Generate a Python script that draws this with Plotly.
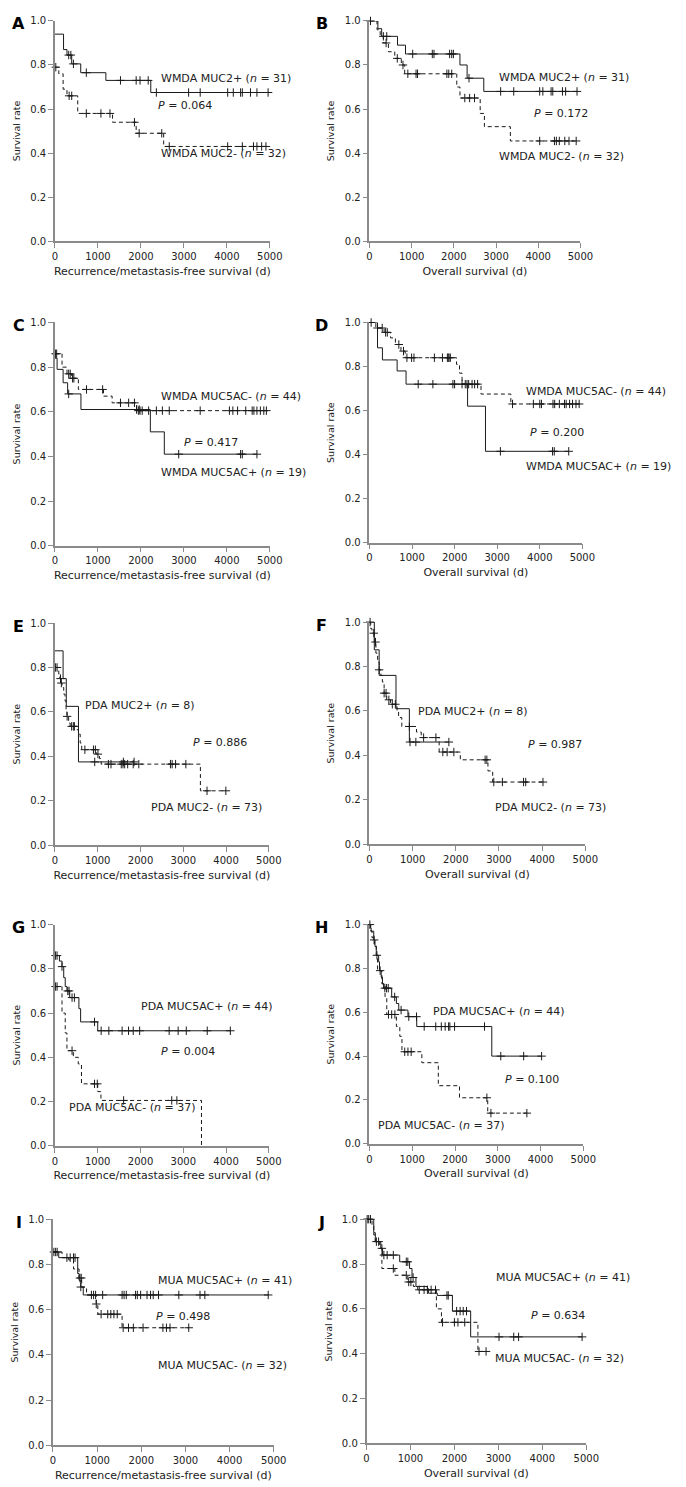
import numpy as np
import plotly.graph_objects as go

# ---------------- data (time in days, survival rate) ----------------
# Panel A  (WMDA, MUC2, recurrence/metastasis-free survival)
A_pos_t = [0, 200, 280, 390, 600, 1185, 2230]
A_pos_s = [0.94, 0.87, 0.845, 0.805, 0.765, 0.73, 0.675]
A_pos_c = [320, 370, 430, 730, 1525, 1890, 1980, 2170, 2360, 3110, 3380, 4020, 4150, 4320, 4360, 4550, 4700, 4960]
A_neg_t = [0, 90, 190, 280, 530, 1340, 1890, 2530]
A_neg_s = [0.79, 0.76, 0.69, 0.66, 0.58, 0.54, 0.49, 0.43]
A_neg_c = [20, 330, 390, 730, 1070, 1280, 1850, 1960, 2485, 2660, 4020, 4360, 4620, 4700, 4810, 4910]

# Panel B  (WMDA, MUC2, overall survival)
B_pos_t = [0, 200, 290, 665, 855, 2145, 2315, 2710]
B_pos_s = [1.0, 0.965, 0.93, 0.89, 0.85, 0.80, 0.74, 0.68]
B_pos_c = [25, 330, 410, 1025, 1490, 1530, 1900, 1950, 1990, 2360, 3110, 3420, 4035, 4110, 4305, 4345, 4575, 4650, 4920]
B_neg_t = [0, 180, 255, 330, 450, 600, 755, 835, 2070, 2145, 2625, 2725, 3340]
B_neg_s = [1.0, 0.96, 0.93, 0.90, 0.86, 0.83, 0.80, 0.76, 0.70, 0.65, 0.58, 0.52, 0.455]
B_neg_c = [395, 660, 795, 910, 1105, 1140, 1835, 1880, 1950, 2260, 2375, 2490, 4035, 4385, 4430, 4500, 4630, 4730, 4900]

# Panel C  (WMDA, MUC5AC, recurrence/metastasis-free survival)
C_pos_t = [0, 50, 190, 295, 605, 2220, 2545]
C_pos_s = [0.84, 0.79, 0.73, 0.68, 0.61, 0.51, 0.41]
C_pos_c = [320, 1900, 1960, 2880, 4320, 4360, 4700]
C_neg_t = [0, 165, 280, 390, 545, 1130, 1330, 1900]
C_neg_s = [0.86, 0.80, 0.77, 0.75, 0.70, 0.67, 0.64, 0.605]
C_neg_c = [15, 40, 320, 355, 410, 440, 735, 1110, 1525, 1715, 1850, 1940, 1980, 2030, 2180, 2360, 2500, 2660,
           3380, 4060, 4140, 4250, 4440, 4590, 4630, 4700, 4780, 4860, 4920]

# Panel D  (WMDA, MUC5AC, overall survival)
D_pos_t = [0, 190, 305, 650, 860, 2305, 2725]
D_pos_s = [1.0, 0.885, 0.83, 0.78, 0.72, 0.62, 0.415]
D_pos_c = [1145, 1490, 1960, 2000, 2175, 3075, 4300, 4340, 4680]
D_neg_t = [0, 150, 345, 495, 610, 740, 840, 2045, 2115, 2175, 2620, 3320]
D_neg_s = [1.0, 0.975, 0.955, 0.93, 0.90, 0.87, 0.84, 0.81, 0.77, 0.72, 0.675, 0.63]
D_neg_c = [40, 190, 300, 380, 420, 690, 800, 880, 990, 1045, 1525, 1715, 1830, 1850, 1870, 1900, 2250, 2290,
           2330, 2410, 2470, 2540, 3360, 3850, 4000, 4040, 4310, 4350, 4460, 4580, 4620, 4700, 4770, 4850, 4925]

# Panel E  (PDA, MUC2, recurrence/metastasis-free survival)
E_pos_t = [0, 190, 265, 550]
E_pos_s = [0.875, 0.75, 0.625, 0.375]
E_pos_c = [930, 1600, 1850]
E_neg_t = [0, 90, 115, 140, 165, 205, 235, 260, 280, 320, 355, 510, 550, 590, 625, 965, 1040, 1080, 3400]
E_neg_s = [0.80, 0.77, 0.75, 0.73, 0.71, 0.68, 0.65, 0.61, 0.58, 0.55, 0.535, 0.52, 0.50, 0.46, 0.43, 0.41,
           0.39, 0.365, 0.245]
E_neg_c = [15, 50, 130, 150, 285, 390, 430, 455, 700, 900, 945, 1005, 1250, 1310, 1550, 1590, 1630, 1700,
           1830, 1960, 2700, 2740, 2820, 3060, 3555, 3995]

# Panel F  (PDA, MUC2, overall survival)
F_pos_t = [0, 113, 225, 615, 925]
F_pos_s = [1.0, 0.875, 0.76, 0.61, 0.46]
F_pos_c = [940, 1075, 1840]
F_neg_t = [0, 30, 60, 113, 150, 190, 225, 265, 300, 340, 400, 490, 640, 675, 750, 1090, 1200, 1615, 2105,
           2745, 2855]
F_neg_s = [1.0, 0.97, 0.95, 0.91, 0.86, 0.82, 0.785, 0.76, 0.73, 0.68, 0.65, 0.63, 0.60, 0.57, 0.53, 0.505,
           0.48, 0.415, 0.38, 0.33, 0.28]
F_neg_c = [15, 100, 140, 225, 340, 385, 450, 530, 600, 925, 1255, 1540, 1700, 1800, 1955, 2680, 2720, 2880,
           3080, 3570, 3620, 4020]

# Panel G  (PDA, MUC5AC, recurrence/metastasis-free survival)
G_pos_t = [0, 105, 165, 205, 240, 280, 345, 560, 600, 1000]
G_pos_s = [0.86, 0.835, 0.81, 0.76, 0.72, 0.70, 0.67, 0.62, 0.56, 0.52]
G_pos_c = [15, 50, 165, 300, 330, 400, 455, 925, 1080, 1260, 1570, 1720, 1830, 1980, 2670, 2880, 3070, 3560, 4100]
G_neg_t = [0, 165, 240, 280, 430, 545, 620, 1000, 1075, 3425]
G_neg_s = [0.72, 0.60, 0.51, 0.43, 0.40, 0.37, 0.28, 0.245, 0.205, 0.0]
G_neg_c = [15, 50, 400, 925, 990, 1605, 2730, 2850]

# Panel H  (PDA, MUC5AC, overall survival)
H_pos_t = [0, 20, 40, 100, 130, 160, 215, 235, 275, 305, 330, 520, 630, 685, 900, 1105, 2860]
H_pos_s = [1.0, 0.985, 0.97, 0.93, 0.90, 0.86, 0.83, 0.79, 0.76, 0.73, 0.71, 0.67, 0.64, 0.61, 0.58, 0.535, 0.40]
H_pos_c = [10, 110, 175, 250, 360, 400, 440, 590, 740, 920, 1100, 1280, 1550, 1680, 1770, 1850, 1880, 1990,
           2690, 3070, 3605, 4025]
H_neg_t = [0, 30, 60, 115, 160, 190, 290, 365, 405, 630, 710, 760, 1225, 1610, 2105, 2765]
H_neg_s = [1.0, 0.97, 0.94, 0.91, 0.86, 0.79, 0.73, 0.67, 0.59, 0.535, 0.49, 0.42, 0.37, 0.265, 0.21, 0.14]
H_neg_c = [445, 520, 595, 825, 900, 975, 2745, 2840, 3680]

# Panel I  (MUA, MUC5AC, recurrence/metastasis-free survival)
I_pos_t = [0, 130, 560, 590, 630, 685]
I_pos_s = [0.855, 0.83, 0.76, 0.73, 0.70, 0.665]
I_pos_c = [20, 95, 315, 390, 465, 500, 630, 870, 920, 965, 1125, 1565, 1610, 1660, 1870, 1910, 1985, 2130,
           2210, 2270, 2390, 2850, 3330, 3440, 4875]
I_neg_t = [0, 205, 355, 465, 590, 650, 760, 980, 1015, 1565]
I_neg_s = [0.855, 0.83, 0.82, 0.78, 0.74, 0.70, 0.665, 0.625, 0.58, 0.52]
I_neg_c = [60, 610, 640, 980, 1090, 1240, 1310, 1380, 1455, 1590, 1710, 1820, 2040, 2490, 2570, 2650, 3075]

# Panel J  (MUA, MUC5AC, overall survival)
J_pos_t = [0, 165, 200, 325, 365, 755, 980, 1035, 1125, 1385, 1410, 1610, 1955, 2370]
J_pos_s = [1.0, 0.94, 0.90, 0.87, 0.84, 0.81, 0.78, 0.74, 0.70, 0.69, 0.67, 0.66, 0.59, 0.475]
J_pos_c = [15, 50, 90, 225, 275, 350, 395, 470, 610, 905, 940, 1060, 1830, 1860, 2050, 2130, 2200, 2275,
           3015, 3350, 3460, 4905]
J_neg_t = [0, 125, 165, 200, 300, 350, 645, 940, 1065, 1165, 1590, 1705, 2535]
J_neg_s = [1.0, 0.97, 0.93, 0.90, 0.87, 0.78, 0.75, 0.72, 0.70, 0.685, 0.60, 0.54, 0.41]
J_neg_c = [610, 905, 960, 1010, 1200, 1310, 1385, 1470, 1570, 1730, 2000, 2080, 2235, 2560, 2720]

# labels
panel_letters = ["A", "B", "C", "D", "E", "F", "G", "H", "I", "J"]
pos_names = ["WMDA MUC2+", "WMDA MUC2+", "WMDA MUC5AC+", "WMDA MUC5AC+", "PDA MUC2+", "PDA MUC2+",
             "PDA MUC5AC+", "PDA MUC5AC+", "MUA MUC5AC+", "MUA MUC5AC+"]
pos_n = [31, 31, 19, 19, 8, 8, 44, 44, 41, 41]
neg_names = ["WMDA MUC2-", "WMDA MUC2-", "WMDA MUC5AC-", "WMDA MUC5AC-", "PDA MUC2-", "PDA MUC2-",
             "PDA MUC5AC-", "PDA MUC5AC-", "MUA MUC5AC-", "MUA MUC5AC-"]
neg_n = [32, 32, 44, 44, 73, 73, 37, 37, 32, 32]
p_values = ["0.064", "0.172", "0.417", "0.200", "0.886", "0.987", "0.004", "0.100", "0.498", "0.634"]
x_titles = ["Recurrence/metastasis-free survival (d)", "Overall survival (d)"]
y_title = "Survival rate"
x_ticks = [0, 1000, 2000, 3000, 4000, 5000]
y_ticks = [0.0, 0.2, 0.4, 0.6, 0.8, 1.0]

curves = [
    (A_pos_t, A_pos_s, A_pos_c, A_neg_t, A_neg_s, A_neg_c),
    (B_pos_t, B_pos_s, B_pos_c, B_neg_t, B_neg_s, B_neg_c),
    (C_pos_t, C_pos_s, C_pos_c, C_neg_t, C_neg_s, C_neg_c),
    (D_pos_t, D_pos_s, D_pos_c, D_neg_t, D_neg_s, D_neg_c),
    (E_pos_t, E_pos_s, E_pos_c, E_neg_t, E_neg_s, E_neg_c),
    (F_pos_t, F_pos_s, F_pos_c, F_neg_t, F_neg_s, F_neg_c),
    (G_pos_t, G_pos_s, G_pos_c, G_neg_t, G_neg_s, G_neg_c),
    (H_pos_t, H_pos_s, H_pos_c, H_neg_t, H_neg_s, H_neg_c),
    (I_pos_t, I_pos_s, I_pos_c, I_neg_t, I_neg_s, I_neg_c),
    (J_pos_t, J_pos_s, J_pos_c, J_neg_t, J_neg_s, J_neg_c),
]

# ---------------- layout geometry (pixels of the page) ----------------
W, H = 686, 1487
OFF = 8  # default page (body) margin that offsets the figure in the browser
# (x_left, x_right, y_top, y_bottom) of each plot area on the page
boxes = [(53, 273, 15, 237), (375, 591, 15, 237),
         (53, 273, 319, 544), (375, 593, 319, 541),
         (53, 272, 622, 846), (375, 596, 621, 845),
         (53, 272, 926, 1149), (375, 594, 926, 1147),
         (51, 277, 1223, 1451), (372, 597, 1223, 1449)]
# label anchor positions in data coords: (pos label, P label, neg label)
label_pos = [
    ((2410, 0.74), (2360, 0.617), (2410, 0.40)),
    ((3030, 0.745), (3860, 0.58), (3030, 0.385)),
    ((2430, 0.33), (2960, 0.463), (2430, 0.667)),
    ((3625, 0.347), (3725, 0.50), (3625, 0.688)),
    ((660, 0.627), (3170, 0.463), (2200, 0.17)),
    ((1075, 0.597), (3630, 0.45), (2870, 0.167)),
    ((1970, 0.628), (2440, 0.425), (280, 0.175)),
    ((1450, 0.603), (3125, 0.294), (150, 0.083)),
    ((2325, 0.73), (2290, 0.57), (2325, 0.354)),
    ((2890, 0.742), (3700, 0.57), (2880, 0.38)),
]

FONT = "DejaVu Sans"
LINE_COL = "#1a1a1a"
AXIS_COL = "#8a8a8a"
TEXT_COL = "#222222"


def step_xy(t, s, c):
    end = max(t[-1], max(c) if len(c) else 0)
    return list(t) + [end], list(s) + [s[-1]]


def censor_y(t, s, c):
    idx = np.searchsorted(np.array(t), np.array(c), side="right") - 1
    return list(np.array(s)[idx])


fig = go.Figure()
layout = dict(width=W, height=H, margin=dict(l=0, r=0, t=0, b=0), autosize=False,
              plot_bgcolor="white", paper_bgcolor="white", showlegend=False,
              font=dict(family=FONT, color=TEXT_COL))
annotations = []

for i in range(10):
    k = "" if i == 0 else str(i + 1)
    xl, xr, yt, yb = [v - OFF for v in boxes[i]]
    xa, ya = "x" + k, "y" + k
    col = i % 2
    pos_t, pos_s, pos_c, neg_t, neg_s, neg_c = curves[i]

    for (t, s, c, dash) in [(neg_t, neg_s, neg_c, "4px,3px"), (pos_t, pos_s, pos_c, "solid")]:
        x, y = step_xy(t, s, c)
        fig.add_trace(go.Scatter(x=x, y=y, mode="lines", line=dict(shape="hv", color=LINE_COL, width=1, dash=dash),
                                 xaxis=xa, yaxis=ya, cliponaxis=False, hoverinfo="skip"))
        fig.add_trace(go.Scatter(x=c, y=censor_y(t, s, c), mode="markers",
                                 marker=dict(symbol="cross-thin", size=6, line=dict(color=LINE_COL, width=1)),
                                 xaxis=xa, yaxis=ya, cliponaxis=False, hoverinfo="skip"))

    axis_common = dict(showline=True, linecolor=AXIS_COL, linewidth=1.5, ticks="outside", ticklen=5,
                       tickcolor=AXIS_COL, tickwidth=1, showgrid=False, zeroline=False,
                       tickfont=dict(family=FONT, size=10, color=TEXT_COL), fixedrange=True)
    layout["xaxis" + k] = dict(axis_common, domain=[xl / W, xr / W], anchor=ya, range=[0, 5000],
                               tickvals=x_ticks, ticktext=[str(v) for v in x_ticks],
                               title=dict(text=x_titles[col], font=dict(family=FONT, size=11, color=TEXT_COL),
                                          standoff=6))
    layout["yaxis" + k] = dict(axis_common, domain=[1 - yb / H, 1 - yt / H], anchor=xa, range=[0, 1.0],
                               tickvals=y_ticks, ticktext=["%.1f" % v for v in y_ticks],
                               title=dict(text=y_title, font=dict(family=FONT, size=9.5, color=TEXT_COL),
                                          standoff=8))

    (px_, py_), (qx, qy), (nx, ny) = label_pos[i]
    tfont = dict(family=FONT, size=11, color=TEXT_COL)
    annotations.append(dict(x=px_, y=py_, xref=xa, yref=ya, xanchor="left", yanchor="middle", showarrow=False,
                            text="%s (<i>n</i> = %d)" % (pos_names[i], pos_n[i]), font=tfont))
    annotations.append(dict(x=qx, y=qy, xref=xa, yref=ya, xanchor="left", yanchor="middle", showarrow=False,
                            text="<i>P</i> = %s" % p_values[i], font=tfont))
    annotations.append(dict(x=nx, y=ny, xref=xa, yref=ya, xanchor="left", yanchor="middle", showarrow=False,
                            text="%s (<i>n</i> = %d)" % (neg_names[i], neg_n[i]), font=tfont))
    letter_x = (16 if col == 0 else 326) - OFF
    annotations.append(dict(x=letter_x / W, y=1 - (yt + 3) / H, xref="paper", yref="paper", xanchor="center",
                            yanchor="middle", showarrow=False, text="<b>%s</b>" % panel_letters[i],
                            font=dict(family=FONT, size=16, color="#000000")))

layout["annotations"] = annotations
fig.update_layout(**layout)
fig.write_html("out.html")
